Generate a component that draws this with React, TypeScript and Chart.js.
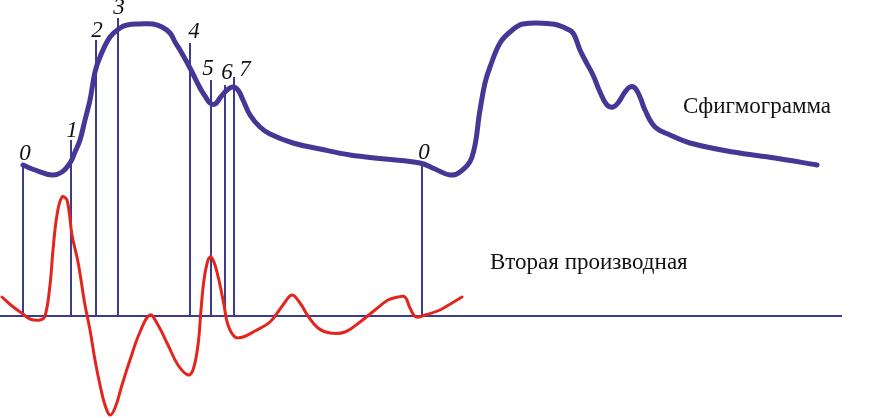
import React, { useEffect, useRef } from "react";
import { Chart, registerables } from "chart.js";

Chart.register(...registerables);

// Sphygmogram (x = time units, y = vertical position, downward axis)
const sphygX = [23, 35, 52, 62, 70, 75, 80, 85, 90, 95, 100, 110, 120, 127, 140, 153, 162, 170, 175, 180, 190, 200, 205, 210, 215, 220, 227, 233, 238, 243, 250, 260, 270, 293, 320, 350, 385, 420, 435, 450, 460, 472, 480, 485, 490, 500, 510, 523, 553, 565, 573, 580, 585, 593, 600, 607, 613, 618, 625, 630, 635, 640, 645, 655, 670, 690, 733, 775, 817];
const sphygY = [165, 170, 175, 172, 163, 152, 140, 120, 100, 72, 57, 37, 28, 25, 24, 24, 27, 33, 42, 50, 68, 88, 96, 103, 104, 98, 90, 87, 90, 100, 115, 127, 134, 143, 149, 155, 159, 163, 169, 175, 172, 157, 110, 83, 67, 43, 32, 24, 24, 28, 33, 50, 60, 75, 92, 105, 107, 103, 92, 87, 88, 97, 110, 127, 135, 143, 152, 158, 165];

// Second derivative
const derivX = [2, 12, 23, 30, 40, 45, 50, 53, 57, 62, 67, 72, 78, 85, 90, 95, 100, 105, 110, 115, 122, 130, 140, 150, 158, 168, 178, 188, 193, 198, 201, 204, 208, 211, 215, 220, 224, 228, 235, 243, 255, 270, 283, 292, 300, 308, 318, 330, 345, 360, 375, 388, 398, 405, 410, 416, 425, 440, 452, 462];
const derivY = [297, 306, 314, 319, 320, 316, 285, 250, 215, 197, 200, 235, 262, 305, 330, 360, 385, 405, 415, 408, 385, 360, 332, 315, 325, 345, 365, 375, 370, 345, 310, 280, 260, 257, 265, 285, 305, 325, 337, 337, 331, 322, 305, 295, 303, 316, 328, 333, 332, 322, 310, 300, 297, 297, 308, 317, 315, 310, 303, 297];

// Baseline
const baseX = [0, 842];
const baseY = [316, 316];

// Phase markers
const markerLabels = ["0", "1", "2", "3", "4", "5", "6", "7", "0"];
const markerX = [23, 71, 96, 118, 190, 211, 225, 234, 422];
const markerTop = [165, 140, 40, 18, 43, 80, 85, 77, 163];
const markerBottom = 316;
const labelX = [25, 72, 97, 119, 194, 208, 227, 245, 424];
const labelY = [154, 131, 31, 8, 32, 69, 73, 70, 153];

const titles = ["Сфигмограмма", "Вторая производная"];
const titleX = [683, 490];
const titleY = [113, 269];

const BLUE = "rgb(70,55,150)";
const LINE = "rgb(60,60,140)";
const RED = "rgb(226,38,30)";

export default function App() {
  const ref = useRef<HTMLCanvasElement>(null);
  useEffect(() => {
    document.body.style.margin = "0";
    const pts = (xs: number[], ys: number[]) => xs.map((x, i) => ({ x, y: ys[i] }));
    const markerSets = markerX.map((x, i) => ({
      data: [{ x, y: markerTop[i] }, { x, y: markerBottom }],
      borderColor: LINE,
      borderWidth: 2,
      pointRadius: 0,
      showLine: true,
      tension: 0,
      order: 3,
    }));
    const textPlugin = {
      id: "texts",
      afterDatasetsDraw(chart: any) {
        const { ctx, scales } = chart;
        const sx = scales.x, sy = scales.y;
        ctx.save();
        ctx.fillStyle = "#111";
        ctx.textAlign = "center";
        ctx.textBaseline = "middle";
        ctx.font = "italic 23px 'Liberation Serif'";
        markerLabels.forEach((t, i) => {
          ctx.fillText(t, sx.getPixelForValue(labelX[i]), sy.getPixelForValue(labelY[i]));
        });
        ctx.textAlign = "left";
        ctx.textBaseline = "alphabetic";
        ctx.font = "23px 'Liberation Serif'";
        titles.forEach((t, i) => {
          ctx.fillText(t, sx.getPixelForValue(titleX[i]), sy.getPixelForValue(titleY[i]));
        });
        ctx.restore();
      },
    };
    const chart = new Chart(ref.current!, {
      type: "scatter",
      data: {
        datasets: [
          {
            data: pts(sphygX, sphygY),
            borderColor: BLUE,
            borderWidth: 5,
            pointRadius: 0,
            showLine: true,
            tension: 0.4,
            borderCapStyle: "round",
            borderJoinStyle: "round",
            order: 1,
          },
          {
            data: pts(derivX, derivY),
            borderColor: RED,
            borderWidth: 3,
            pointRadius: 0,
            showLine: true,
            tension: 0.4,
            borderCapStyle: "round",
            borderJoinStyle: "round",
            order: 0,
          },
          {
            data: pts(baseX, baseY),
            borderColor: LINE,
            borderWidth: 2,
            pointRadius: 0,
            showLine: true,
            order: 2,
          },
          ...markerSets,
        ] as any,
      },
      options: {
        animation: false,
        responsive: false,
        devicePixelRatio: 1,
        layout: { padding: 0 },
        plugins: { legend: { display: false }, tooltip: { enabled: false } },
        scales: {
          x: { type: "linear", min: 0, max: 886, display: false },
          y: { type: "linear", min: 0, max: 418, reverse: true, display: false },
        },
      } as any,
      plugins: [textPlugin],
    });
    return () => chart.destroy();
  }, []);
  return (
    <div style={{ width: 886, height: 418, background: "#fff" }}>
      <canvas ref={ref} width={886} height={418} />
    </div>
  );
}
